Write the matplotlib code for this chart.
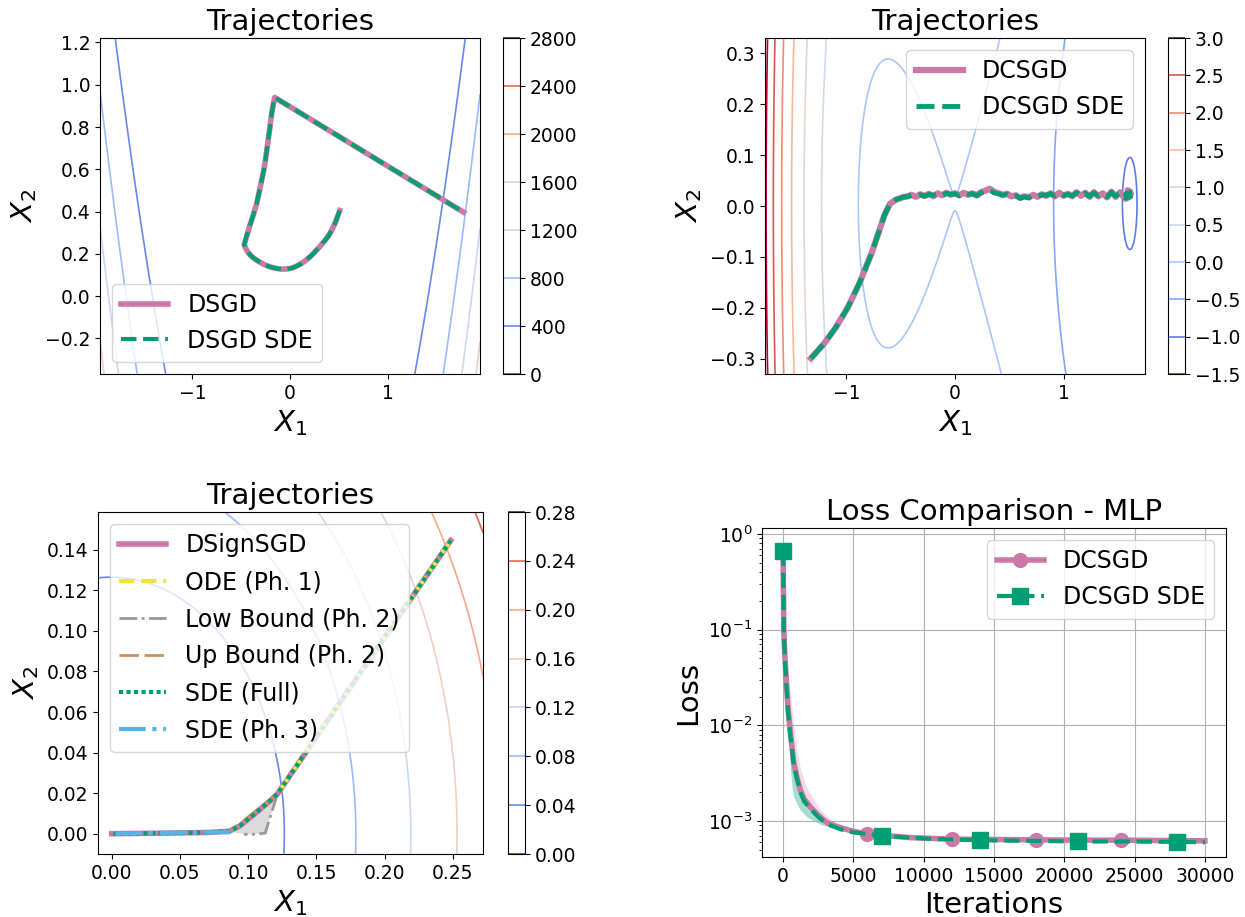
import numpy as np
import matplotlib
matplotlib.use("Agg")
import matplotlib.pyplot as plt

# colours (Okabe-Ito style)
PINK = "#CC79A7"
GREEN = "#009E73"
YELLOW = "#F0E442"
GREY = "#999999"
TAN = "#C8925F"
BLUE = "#56B4E9"

# ---------------- data ----------------
# top left: DSGD trajectory on the Rosenbrock surface
dsgd_x = [0.509, 0.47, 0.43, 0.39, 0.355, 0.30, 0.25, 0.209, 0.15, 0.10, 0.062, 0.02,
          -0.03, -0.084, -0.14, -0.20, -0.267, -0.33, -0.38, -0.414, -0.445, -0.469,
          -0.44, -0.41, -0.375, -0.34, -0.305, -0.267, -0.245, -0.223, -0.205, -0.187,
          -0.172, -0.157, 1.777]
dsgd_y = [0.405, 0.355, 0.314, 0.283, 0.262, 0.232, 0.207, 0.188, 0.165, 0.150, 0.141, 0.133,
          0.129, 0.128, 0.131, 0.138, 0.150, 0.167, 0.183, 0.198, 0.218, 0.243,
          0.29, 0.335, 0.385, 0.44, 0.515, 0.598, 0.665, 0.74, 0.80, 0.866,
          0.905, 0.94, 0.397]
levels_1 = [0, 400, 800, 1200, 1600, 2000, 2400, 2800]

# top right: DCSGD trajectory (curved start, then noisy valley walk)
dc_start_x = [-1.326, -1.209, -1.099, -0.989, -0.879, -0.769, -0.70, -0.65, -0.60, -0.549, -0.476]
dc_start_y = [-0.299, -0.271, -0.239, -0.200, -0.151, -0.093, -0.050, -0.018, 0.004, 0.012, 0.0175]
walk_x = [-0.44, -0.40, -0.36, -0.32, -0.28, -0.24, -0.20, -0.16, -0.12, -0.08,
          -0.04, 0.00, 0.04, 0.08, 0.12, 0.16, 0.20, 0.24, 0.28, 0.32,
          0.36, 0.40, 0.44, 0.48, 0.52, 0.56, 0.60, 0.64, 0.68, 0.72,
          0.76, 0.80, 0.84, 0.88, 0.92, 0.96, 1.00, 1.04, 1.08, 1.12,
          1.16, 1.20, 1.24, 1.28, 1.32, 1.36, 1.40, 1.44, 1.48, 1.52, 1.56]
dcsgd_walk_y = [0.019, 0.022, 0.018, 0.023, 0.020, 0.024, 0.019, 0.025, 0.021, 0.026,
                0.022, 0.025, 0.021, 0.026, 0.022, 0.025, 0.021, 0.027, 0.030, 0.034,
                0.028, 0.025, 0.022, 0.024, 0.019, 0.021, 0.016, 0.019, 0.017, 0.022,
                0.018, 0.023, 0.020, 0.025, 0.019, 0.026, 0.020, 0.024, 0.019, 0.027,
                0.020, 0.026, 0.018, 0.027, 0.019, 0.025, 0.017, 0.028, 0.018, 0.027, 0.016]
sde_walk_y = [0.018, 0.021, 0.020, 0.022, 0.019, 0.023, 0.021, 0.024, 0.020, 0.025,
              0.023, 0.024, 0.020, 0.025, 0.023, 0.024, 0.020, 0.026, 0.029, 0.031,
              0.026, 0.024, 0.021, 0.023, 0.018, 0.020, 0.015, 0.018, 0.016, 0.021,
              0.019, 0.022, 0.021, 0.024, 0.020, 0.025, 0.021, 0.023, 0.020, 0.026,
              0.019, 0.025, 0.019, 0.026, 0.020, 0.024, 0.018, 0.027, 0.019, 0.026, 0.017]
dcsgd_end_x = [1.60, 1.57, 1.61, 1.58, 1.62, 1.59, 1.61, 1.60]
dcsgd_end_y = [0.026, 0.014, 0.029, 0.017, 0.024, 0.031, 0.018, 0.022]
sde_end_x = [1.59, 1.61, 1.57, 1.60, 1.62, 1.58, 1.61]
sde_end_y = [0.015, 0.027, 0.022, 0.030, 0.019, 0.025, 0.021]
levels_2 = [-1.5, -1.0, -0.5, 0.0, 0.5, 1.0, 1.5, 2.0, 2.5, 3.0]

# bottom left: DSignSGD and its phase approximations
dsign_x = [0.2484, 0.1215, 0.116, 0.106, 0.094, 0.086, 0.070, 0.040, 0.000]
dsign_y = [0.1446, 0.0197, 0.0162, 0.0105, 0.0039, 0.0012, 0.0006, 0.0003, 0.0000]
ode_x = [0.2484, 0.1215]
ode_y = [0.1446, 0.0197]
low_x = [0.1215, 0.1160, 0.1125, 0.1040, 0.0970]
low_y = [0.0197, 0.0080, 0.0003, -0.0003, -0.0003]
up_x = [0.1215, 0.1040, 0.0870]
up_y = [0.0197, 0.0105, 0.0010]
ph3_x = [0.0870, 0.0600, 0.0300, 0.0000]
ph3_y = [0.0008, 0.0006, 0.0004, 0.0000]
levels_3 = [0.00, 0.04, 0.08, 0.12, 0.16, 0.20, 0.24, 0.28]

# bottom right: loss curves
dcsgd_iters = [0, 50, 120, 212, 350, 520, 756, 1000, 1229, 1500, 1938, 2500, 3120, 4066,
               5000, 6000, 9000, 12000, 15000, 18000, 21000, 24000, 27000, 30000]
dcsgd_loss = [0.67, 0.1, 0.055, 0.032, 0.015, 0.0083, 0.0041, 0.0028, 0.0021, 0.0017,
              0.0014, 0.00115, 0.00096, 0.00085, 0.00078, 0.00073, 0.00067, 0.000645,
              0.00064, 0.000635, 0.00063, 0.00063, 0.000625, 0.00062]
dcsgd_marks = [0, 6000, 12000, 18000, 24000]
sde_iters = [0, 50, 120, 212, 350, 520, 756, 1000, 1229, 1500, 1938, 2500, 3120, 4066,
             5000, 7000, 10500, 14000, 17500, 21000, 24500, 28000, 30000]
sde_loss = [0.67, 0.1, 0.052, 0.030, 0.014, 0.0078, 0.0039, 0.0027, 0.0020, 0.0016,
            0.00135, 0.0011, 0.00093, 0.00082, 0.00076, 0.0007, 0.00065, 0.00063,
            0.00062, 0.00061, 0.00061, 0.000605, 0.0006]
sde_marks = [0, 7000, 14000, 21000, 28000]
band_iters = [212, 283, 400, 520, 640, 756, 993, 1229, 1700, 2650, 3830, 5000]
sde_band_lo = [0.030, 0.0216, 0.008, 0.0035, 0.0022, 0.0018, 0.0015, 0.0013, 0.0011,
               0.00092, 0.00082, 0.00074]
sde_band_hi = [0.033, 0.026, 0.016, 0.0095, 0.0065, 0.0048, 0.0032, 0.0024, 0.0016,
               0.0011, 0.00088, 0.00079]
dcsgd_band_lo = [0.030, 0.022, 0.012, 0.0075, 0.0055, 0.0040, 0.0027, 0.0020, 0.0015,
                 0.0010, 0.00085, 0.00076]
dcsgd_band_hi = [0.036, 0.034, 0.030, 0.022, 0.015, 0.010, 0.0055, 0.0035, 0.0022,
                 0.0013, 0.00092, 0.00079]

# ---------------- figure ----------------
W, H = 1245, 917
fig = plt.figure(figsize=(W / 100, H / 100), dpi=100)
TICK = 13.5


def box(left, top, w, h):
    return [left / W, 1 - (top + h) / H, w / W, h / H]


def style(ax, title):
    ax.set_title(title, fontsize=21)
    ax.tick_params(labelsize=TICK)


def contour_panel(ax, cax, xlim, ylim, field, levels):
    xs = np.linspace(xlim[0], xlim[1], 500)
    ys = np.linspace(ylim[0], ylim[1], 500)
    X, Y = np.meshgrid(xs, ys)
    cs = ax.contour(X, Y, field(X, Y), levels=levels, cmap="coolwarm", linewidths=1.2)
    cb = fig.colorbar(cs, cax=cax)
    cb.set_ticks(levels)
    cb.ax.tick_params(labelsize=TICK)
    ax.set_xlim(*xlim)
    ax.set_ylim(*ylim)
    ax.set_xlabel("$X_1$", fontsize=21)
    ax.set_ylabel("$X_2$", fontsize=21)


# top left
ax1 = fig.add_axes(box(100, 38, 380, 336))
cax1 = fig.add_axes(box(503, 38, 17, 336))
contour_panel(ax1, cax1, (-1.945, 1.945), (-0.368, 1.221),
              lambda x, y: (1 - x) ** 2 + 100 * (y - x ** 2) ** 2, levels_1)
ax1.plot(dsgd_x, dsgd_y, color=PINK, lw=4, label="DSGD")
ax1.plot(dsgd_x, dsgd_y, color=GREEN, lw=3, ls="--", label="DSGD SDE")
ax1.set_xticks([-1, 0, 1])
style(ax1, "Trajectories")
ax1.legend(loc="lower left", fontsize=17)


# top right
def well(x, y):
    g = 0.255 * x ** 2 * (x + 0.89) * (x - 2.22) * (1 + 0.0138 * (x - 1.61) ** 2)
    return g + (y - 0.005) ** 2 - 0.0002


ax2 = fig.add_axes(box(765, 38, 380, 336))
cax2 = fig.add_axes(box(1168, 38, 17, 336))
contour_panel(ax2, cax2, (-1.75, 1.75), (-0.33, 0.33), well, levels_2)
ax2.plot(dc_start_x + walk_x + dcsgd_end_x, dc_start_y + dcsgd_walk_y + dcsgd_end_y,
         color=PINK, lw=4.5, label="DCSGD")
ax2.plot(dc_start_x + walk_x + sde_end_x, dc_start_y + sde_walk_y + sde_end_y,
         color=GREEN, lw=3.5, ls="--", label="DCSGD SDE")
ax2.set_xticks([-1, 0, 1])
style(ax2, "Trajectories")
ax2.legend(loc="upper right", fontsize=17)

# bottom left
ax3 = fig.add_axes(box(98, 512, 385, 342))
cax3 = fig.add_axes(box(508, 512, 17, 342))
contour_panel(ax3, cax3, (-0.01, 0.272), (-0.01, 0.1586),
              lambda x, y: 2.5 * (x ** 2 + y ** 2), levels_3)
ax3.fill(up_x + low_x[::-1], up_y + low_y[::-1], color="lightgrey", alpha=0.8, lw=0)
ax3.plot(dsign_x, dsign_y, color=PINK, lw=4, label="DSignSGD")
ax3.plot(ode_x, ode_y, color=YELLOW, lw=3, ls="--", label="ODE (Ph. 1)")
ax3.plot(low_x, low_y, color=GREY, lw=2, ls="-.", label="Low Bound (Ph. 2)")
ax3.plot(up_x, up_y, color=TAN, lw=2, ls=(0, (7, 2)), label="Up Bound (Ph. 2)")
ax3.plot(dsign_x, dsign_y, color=GREEN, lw=3, ls=(0, (1, 0.8)), label="SDE (Full)")
ax3.plot(ph3_x, ph3_y, color=BLUE, lw=3, ls="-.", label="SDE (Ph. 3)")
ax3.set_xticks([0.0, 0.05, 0.10, 0.15, 0.20, 0.25])
ax3.set_yticks([0.0, 0.02, 0.04, 0.06, 0.08, 0.10, 0.12, 0.14])
style(ax3, "Trajectories")
ax3.legend(loc="upper left", fontsize=17, labelspacing=0.55)

# bottom right
ax4 = fig.add_axes(box(762, 528, 464, 329))
ax4.fill_between(band_iters, dcsgd_band_lo, dcsgd_band_hi, color=PINK, alpha=0.25, lw=0)
ax4.fill_between(band_iters, sde_band_lo, sde_band_hi, color=GREEN, alpha=0.35, lw=0)
ax4.plot(dcsgd_iters, dcsgd_loss, color=PINK, lw=4, marker="o", ms=10,
         markevery=[dcsgd_iters.index(i) for i in dcsgd_marks], label="DCSGD")
ax4.plot(sde_iters, sde_loss, color=GREEN, lw=3, ls="--", marker="s", ms=11,
         markevery=[sde_iters.index(i) for i in sde_marks], label="DCSGD SDE")
ax4.set_yscale("log")
ax4.set_xlim(-1500, 31500)
ax4.set_ylim(4.2e-4, 1.155)
ax4.set_xticks([0, 5000, 10000, 15000, 20000, 25000, 30000])
ax4.grid(True)
ax4.set_xlabel("Iterations", fontsize=21)
ax4.set_ylabel("Loss", fontsize=21)
style(ax4, "Loss Comparison - MLP")
ax4.legend(loc="upper right", fontsize=17)

fig.savefig("out.png", dpi=100)
